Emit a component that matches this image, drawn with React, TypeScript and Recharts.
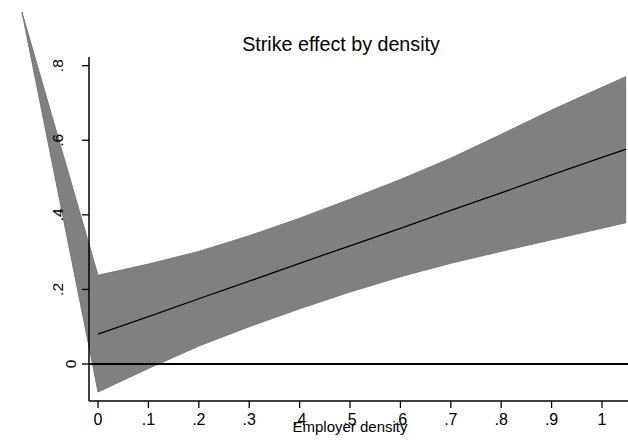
import React from "react";
import {
  Area,
  ComposedChart,
  Label,
  Line,
  ReferenceLine,
  XAxis,
  YAxis,
} from "recharts";

// first row is the stray point that makes the wedge
const densX = [-0.151, 0, 0.1, 0.2, 0.3, 0.4, 0.5, 0.6, 0.7, 0.8, 0.9, 1.0, 1.048];
const effect = [null, 0.08, 0.127, 0.175, 0.222, 0.27, 0.317, 0.364, 0.412, 0.459, 0.507, 0.554, 0.576];
const ciUpper = [0.944, 0.238, 0.268, 0.302, 0.344, 0.391, 0.442, 0.495, 0.552, 0.616, 0.681, 0.742, 0.771];
const ciLower = [0.944, -0.075, -0.012, 0.048, 0.1, 0.148, 0.193, 0.234, 0.27, 0.302, 0.333, 0.364, 0.379];

const xTicks = [0, 0.1, 0.2, 0.3, 0.4, 0.5, 0.6, 0.7, 0.8, 0.9, 1];
const yTicks = [0, 0.2, 0.4, 0.6, 0.8];

const xDomain = [-0.0179, 1.1151];
const yDomain = [-0.0992, 0.8233];

const data = densX.map((x, i) => ({
  x,
  fit: effect[i],
  lo: ciLower[i],
  hi: ciUpper[i],
}));

const fmt = (v: number) => {
  if (v === 0) return "0";
  if (v === 1) return "1";
  return String(Math.round(v * 10) / 10).replace(/^0/, "");
};

const font = "'Liberation Sans', Arial, sans-serif";

const YTick = ({ y, payload }: any) => {
  const label = fmt(payload.value);
  const bx = label.length === 1 ? 76 : 63;
  return (
    <text
      transform={`translate(${bx},${y}) rotate(-90)`}
      textAnchor="middle"
      fontSize={15.5}
      fill="#000"
    >
      {label}
    </text>
  );
};

export default function App() {
  return (
    <div
      style={{
        position: "absolute",
        left: 0,
        top: 0,
        width: 628,
        height: 444,
        overflow: "hidden",
        background: "#fff",
        fontFamily: font,
      }}
    >
      <style>{".band g, .band path { clip-path: none !important; }"}</style>
      <ComposedChart
        width={670}
        height={444}
        data={data}
        margin={{ top: 57, right: 10, bottom: 0, left: 0 }}
      >
        <XAxis
          xAxisId="top"
          orientation="top"
          dataKey="x"
          type="number"
          domain={xDomain}
          allowDataOverflow
          height={0}
          tick={false}
          tickLine={false}
          axisLine={{ stroke: "#000", strokeWidth: 1.5 }}
        />
        <XAxis
          dataKey="x"
          type="number"
          domain={xDomain}
          allowDataOverflow
          ticks={xTicks}
          tickFormatter={fmt}
          height={43}
          tickSize={7}
          tickMargin={6}
          tick={{ fontSize: 16, fill: "#000" }}
          tickLine={{ stroke: "#000", strokeWidth: 1.3 }}
          axisLine={{ stroke: "#000", strokeWidth: 1.5 }}
        >
          <Label
            value="Employer density"
            position="insideBottom"
            offset={12}
            dx={-24.5}
            fontSize={15}
            fill="#000"
          />
        </XAxis>
        <YAxis
          type="number"
          domain={yDomain}
          allowDataOverflow
          ticks={yTicks}
          width={89}
          tickSize={7}
          tick={<YTick />}
          tickLine={{ stroke: "#000", strokeWidth: 1.3 }}
          axisLine={{ stroke: "#000", strokeWidth: 1.5 }}
        />
        <Area
          className="band"
          dataKey={(d: any) => [d.lo, d.hi]}
          type="linear"
          fill="#808080"
          fillOpacity={1}
          stroke="#6c6c6c"
          strokeWidth={0.8}
          isAnimationActive={false}
          activeDot={false}
        />
        <ReferenceLine y={0} stroke="#000" strokeWidth={2} />
        <Line
          dataKey="fit"
          type="linear"
          stroke="#000"
          strokeWidth={1.3}
          dot={false}
          activeDot={false}
          isAnimationActive={false}
        />
      </ComposedChart>
      <svg
        width={628}
        height={70}
        style={{ position: "absolute", left: 0, top: 0, pointerEvents: "none" }}
      >
        <text x={341} y={51} textAnchor="middle" fontSize={19.7} fill="#000">
          Strike effect by density
        </text>
      </svg>
    </div>
  );
}
